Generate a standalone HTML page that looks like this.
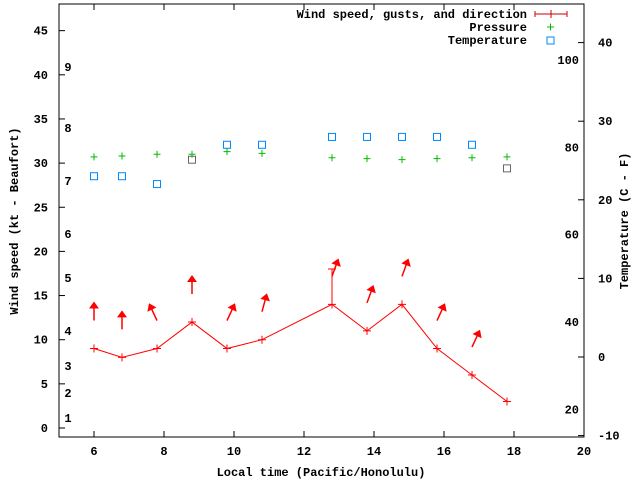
<!DOCTYPE html>
<html><head><meta charset="utf-8"><style>
body{margin:0;background:#fff}
svg{display:block}
text{font-family:"Liberation Mono",monospace;font-size:12px;font-weight:bold;fill:#000}
</style></head><body>
<svg id="c" width="640" height="480"></svg>
<script>
const times=[6.0,6.8,7.8,8.8,9.8,10.8,12.8,13.8,14.8,15.8,16.8,17.8];
const speeds=[9,8,9,12,9,10,14,11,14,9,6,3];
const gusts=[null,null,null,null,null,null,18,null,null,null,null,null];
const dirs=[0,0,-25,0,25,15,20,20,20,25,25,null];
const pressure=[30.7,30.8,31.0,31.0,31.3,31.1,30.6,30.5,30.4,30.5,30.6,30.7];
const tempC=[23.0,23.0,22.0,25.1,27.0,27.0,28.0,28.0,28.0,28.0,27.0,24.0];
const tempGray=[false,false,false,true,false,false,false,false,false,false,false,true];
const xTicks=[6,8,10,12,14,16,18,20];
const yTicks=[0,5,10,15,20,25,30,35,40,45];
const cTicks=[-10,0,10,20,30,40];
const fTicks=[20,40,60,80,100];
const bft=[[1,418],[2,393],[3,366],[4,331],[5,278],[6,234],[7,181],[8,128],[9,67]];
const L=59,R=584,T=4,B=437;
const X=t=>L+(t-5)*35;
const Y=v=>428-v*8.83;
const YC=c=>357-c*7.86;
const YF=f=>YC((f-32)*5/9);
const svg=document.getElementById('c');
const NS='http://www.w3.org/2000/svg';
function mk(tag,attrs,parent){const e=document.createElementNS(NS,tag);for(const k in attrs)e.setAttribute(k,attrs[k]);(parent||svg).appendChild(e);return e;}
function txt(x,y,s,anchor,name){const e=mk('text',{x:x,y:y,'text-anchor':anchor||'start'});e.textContent=s;

return e;}
const frame=mk('rect',{x:L,y:T,width:R-L,height:B-T,fill:'none',stroke:'#000'});


xTicks.forEach(t=>{mk('line',{x1:X(t),x2:X(t),y1:B,y2:B-6,stroke:'#000'});mk('line',{x1:X(t),x2:X(t),y1:T,y2:T+6,stroke:'#000'});txt(X(t),455,String(t),'middle','x-tick-label');});
yTicks.forEach(v=>{mk('line',{x1:L,x2:L+6,y1:Y(v),y2:Y(v),stroke:'#000'});txt(48,Y(v)+4,String(v),'end','y-tick-label');});
cTicks.forEach(c=>{mk('line',{x1:R,x2:R-6,y1:YC(c),y2:YC(c),stroke:'#000'});txt(598,YC(c)+4,String(c),'start','temp-c-tick-label');});
fTicks.forEach(f=>{txt(579,YF(f)+4,String(f),'end','temp-f-label');});
bft.forEach(b=>{txt(68,b[1]+4,String(b[0]),'middle','beaufort-label');});
txt(321,476,'Local time (Pacific/Honolulu)','middle','x-axis-title');
const yt=txt(0,0,'Wind speed (kt - Beaufort)','middle','y-axis-title');yt.setAttribute('transform','translate(18,221) rotate(-90)');
const rt=txt(0,0,'Temperature (C - F)','middle','y2-axis-title');rt.setAttribute('transform','translate(628,221) rotate(-90)');
// wind line
const pts=times.map((t,i)=>X(t)+','+Y(speeds[i])).join(' ');
const pl=mk('polyline',{points:pts,fill:'none',stroke:'#f00'});


times.forEach((t,i)=>{const x=X(t),y=Y(speeds[i]);
const m=mk('path',{d:`M${x-4},${y}h8M${x},${y-4}v8`,stroke:'#f00'});


if(gusts[i]!=null){const g=mk('path',{d:`M${x},${y}V${Y(gusts[i])}M${x-4},${Y(gusts[i])}h8`,stroke:'#f00'});

}
if(dirs[i]!=null){const ty=y-28;
const a=mk('g',{transform:`translate(${x},${ty}) rotate(${dirs[i]})`});


mk('line',{x1:0,y1:0,x2:0,y2:-13,stroke:'#f00','stroke-width':1.5},a);
mk('polygon',{points:'0,-19 -5,-12 5,-12',fill:'#f00'},a);}
});
times.forEach((t,i)=>{const x=X(t),y=Y(pressure[i]);
const m=mk('path',{d:`M${x-3.5},${y}h7M${x},${y-3.5}v7`,stroke:'#0b0'});

});
times.forEach((t,i)=>{const x=X(t),y=YC(tempC[i]);
const m=mk('rect',{x:x-3.5,y:y-3.5,width:7,height:7,fill:'none',stroke:tempGray[i]?'#666':'#08f'});

});
// legend
txt(527,18,'Wind speed, gusts, and direction','end','legend-wind-label');
const lw=mk('path',{d:'M535,14h32M535,11v6M567,11v6M551,10v8',stroke:'#c00'});


txt(527,31,'Pressure','end','legend-pressure-label');
const lp=mk('path',{d:'M547,27h7M550.5,23.5v7',stroke:'#0b0'});


txt(527,44,'Temperature','end','legend-temperature-label');
const lt=mk('rect',{x:547,y:37,width:7,height:7,fill:'none',stroke:'#08f'});


</script>
</body></html>
